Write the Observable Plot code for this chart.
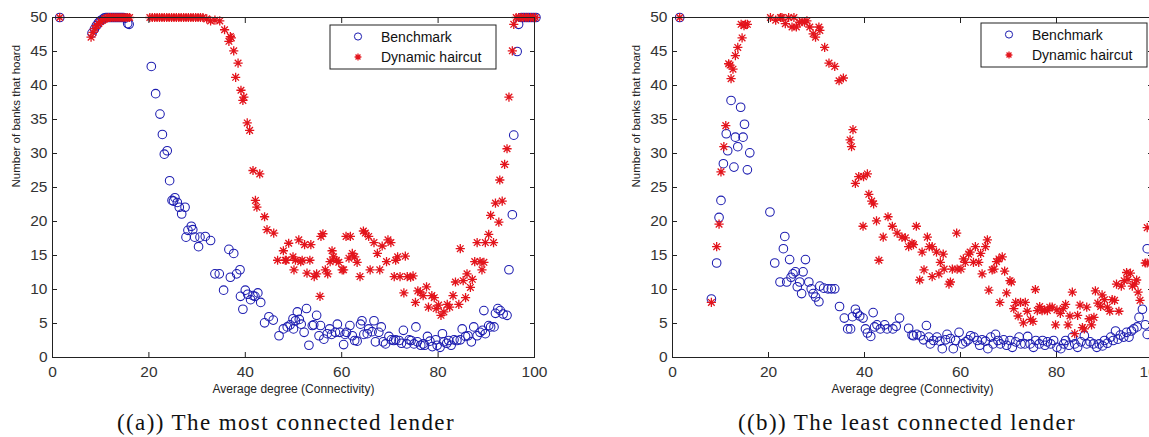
<!DOCTYPE html>
<html><head><meta charset="utf-8">
<script src="https://cdn.jsdelivr.net/npm/d3@7"></script>
<script src="https://cdn.jsdelivr.net/npm/@observablehq/plot@0.6"></script>
<style>
html,body{margin:0;padding:0;overflow:hidden;background:#fff;width:1149px;height:437px}
#wrap{position:relative;width:1149px;height:437px;overflow:hidden}
.fig{position:absolute;top:0}
.fig svg{max-width:none !important;display:block}
.cap{position:absolute;top:410px;font-family:"Liberation Serif","DejaVu Serif",serif;font-size:23px;letter-spacing:1.4px;line-height:26px;color:#111;white-space:nowrap;transform:translateX(-50%)}
</style></head><body><div id="wrap"></div>
<script>
const xTicks=[0,20,40,60,80,100];
const yTicks=[0,5,10,15,20,25,30,35,40,45,50];
const seriesNames=["Benchmark","Dynamic haircut"];
const xLabel="Average degree (Connectivity)";
const yLabel="Number of banks that hoard";
const captions=["((a)) The most connected lender","((b)) The least connected lender"];

// Panel (a): most connected lender
const benchA=[[1.5,50],
[8.2,47.7],[8.7,48.3],[9.1,48.8],[9.5,49.2],[9.9,49.5],[10.3,49.7],[10.7,49.9],[11.1,50],[11.5,50],[11.9,50],[12.3,50],[12.7,50],[13.1,50],[13.5,50],[13.9,50],[14.3,50],[14.7,50],[15.1,49.9],[15.6,49.1],[15.9,49],
[20.5,42.8],[21.4,38.8],[22.3,35.8],[22.8,32.8],[23.2,29.9],[23.8,30.4],[24.3,26.0],[24.8,23.1],[25.1,23.0],[25.4,23.5],[25.9,22.8],[26.3,22.1],[26.8,21.1],[27.5,22.1],[27.7,17.7],[28.1,18.7],[28.8,19.3],[29.1,18.8],[29.5,17.7],[30.3,16.3],[30.6,17.7],[31.7,17.8],[32.8,17.2],[33.7,12.3],[34.6,12.3],[35.5,9.9],[36.6,15.9],[36.9,11.8],[37.6,15.3],[38.2,12.3],[38.9,12.9],[39.0,9.0],[39.5,7.1],[40.0,9.9],[40.5,9.3],[41.1,8.5],[41.6,9.1],[42.0,9.0],[42.6,9.5],[43.2,8.1],[44.0,5.1],[44.9,6.0],[45.8,5.5],[47.0,3.2],[47.9,4.2],[48.7,4.5],[49.3,4.8],[49.9,5.7],[50.0,4.2],[50.4,5.4],[50.8,6.7],[51.2,5.6],[51.6,4.9],[52.2,3.7],[52.7,7.2],[53.2,1.8],[53.9,4.7],[54.2,4.8],[54.8,6.2],[55.3,3.2],[55.6,4.7],[56.3,2.7],[57.0,3.5],[57.5,4.2],[57.9,3.4],[58.7,3.7],[59.1,4.9],[59.6,3.7],[60.4,1.9],[60.7,3.4],[61.0,3.7],[61.7,4.7],[62.2,3.2],[62.7,2.5],[63.2,2.4],[63.9,4.9],[64.2,5.4],[64.6,3.4],[65.3,3.5],[65.6,4.2],[66.3,3.8],[66.7,5.4],[67.0,2.3],[67.7,3.7],[68.2,4.5],[68.6,2.3],[69.1,2.0],[69.8,3.1],[70.3,2.6],[70.8,2.5],[71.2,2.6],[71.9,2.5],[72.4,2.1],[72.8,4.0],[73.5,2.0],[74.0,2.6],[74.4,2.5],[75.0,2.0],[75.4,4.5],[75.7,2.3],[76.4,1.8],[76.9,2.0],[77.2,1.8],[77.8,3.1],[78.3,2.4],[78.8,1.6],[79.5,2.6],[79.8,1.8],[80.4,1.5],[80.9,3.5],[81.2,2.3],[81.8,2.1],[82.2,2.5],[82.7,1.8],[83.3,2.6],[83.9,2.5],[84.6,2.6],[85.0,4.2],[85.7,3.1],[86.2,3.2],[86.9,2.3],[87.4,4.5],[88.1,3.2],[88.7,3.7],[89.2,4.0],[89.5,6.9],[89.8,3.5],[90.5,4.7],[90.9,4.5],[91.6,4.5],[91.9,6.5],[92.4,7.2],[92.9,6.9],[93.5,6.4],[94.3,6.2],[94.7,12.9],[95.4,21.0],[95.7,32.7],[96.4,45.0],[96.7,49.0],[97.3,50],[97.8,50],[98.3,50],[98.8,50],[99.3,50],[99.8,50],[100.3,50]];

const dynA=[[1.5,50],
[8.0,47.1],[8.4,47.8],[8.8,48.4],[9.2,48.8],[9.6,49.1],[10.0,49.4],[10.4,49.6],[10.8,49.8],[11.2,49.9],[11.6,50],[12.0,50],[12.4,50],[12.8,50],[13.2,50],[13.6,50],[14.0,50],[14.4,50],[14.8,50],[15.2,50],[15.6,50],[16.0,50],
[20.2,50],[20.7,50],[21.2,50],[21.7,50],[22.2,50],[22.7,50],[23.2,50],[23.7,50],[24.2,50],[24.7,50],[25.2,50],[25.7,50],[26.2,50],[26.7,50],[27.2,50],[27.7,50],[28.2,50],[28.7,50],[29.2,50],[29.7,50],[30.2,50],[30.7,50],[31.2,50],[32.0,49.8],[32.8,49.5],[33.7,49.6],[34.7,49.5],[35.7,48.2],[36.6,46.5],[36.9,47.2],[37.1,47.0],[37.6,45.1],[38.0,41.2],[38.5,43.3],[39.1,39.3],[39.5,37.8],[39.7,38.3],[40.4,34.5],[40.9,33.4],[41.6,27.5],[42.1,23.1],[42.4,22.1],[43.0,27.0],[44.0,20.7],[44.5,18.8],[45.9,18.3],[46.7,14.3],[47.9,15.7],[48.3,14.3],[48.5,14.3],[49.0,16.8],[49.9,14.8],[50.1,12.9],[50.4,14.3],[51.1,17.3],[51.5,14.1],[51.8,14.3],[52.3,16.6],[52.8,12.4],[53.4,14.3],[53.6,16.6],[54.3,11.9],[54.8,12.3],[55.5,9.0],[55.7,17.8],[56.1,18.2],[56.6,12.9],[57.1,12.3],[57.6,14.1],[58.0,15.7],[58.3,14.8],[58.9,14.3],[59.4,14.0],[60.1,12.9],[60.4,12.9],[60.9,17.8],[61.5,14.6],[61.8,17.8],[62.2,15.3],[62.7,14.8],[63.2,14.0],[63.8,11.9],[64.5,18.6],[64.9,18.3],[65.6,17.8],[65.9,12.9],[66.7,16.9],[67.4,15.3],[67.9,12.9],[68.4,16.4],[69.3,14.1],[69.6,17.3],[70.2,16.9],[70.9,11.9],[71.2,14.3],[71.6,14.8],[72.1,11.9],[72.9,9.5],[73.2,14.9],[73.6,11.9],[74.3,11.8],[74.8,12.0],[75.3,8.1],[75.8,9.8],[76.3,9.6],[76.9,9.1],[77.6,10.4],[78.0,7.4],[78.7,9.1],[79.2,8.8],[79.6,7.2],[80.1,7.7],[80.6,6.2],[81.2,6.7],[81.9,7.8],[82.4,7.4],[83.1,9.1],[83.6,11.1],[84.3,7.8],[84.6,16.0],[85.2,11.3],[85.7,8.8],[86.0,12.3],[86.7,10.3],[87.1,11.5],[87.6,14.1],[88.1,16.9],[88.7,14.1],[89.1,12.9],[89.5,14.0],[89.8,16.9],[90.5,18.1],[90.9,20.9],[91.5,16.9],[91.9,22.7],[92.6,19.9],[92.8,26.1],[93.3,23.0],[93.8,28.4],[94.3,30.7],[94.7,38.3],[95.4,45.1],[95.7,49.0],[96.2,50],[96.7,50],[97.2,50],[97.7,50],[98.2,50],[98.7,50],[99.2,50],[99.7,50],[100.2,50]];

// Panel (b): least connected lender
const benchB=[[1.5,50],
[8.1,8.6],[9.2,13.9],[9.7,20.6],[10.1,23.1],[10.6,28.5],[11.2,32.9],[11.5,30.4],[12.2,37.8],[12.8,28.0],[13.1,32.4],[13.6,31.0],[14.2,36.8],[14.7,32.4],[15.0,34.3],[15.6,27.6],[16.1,30.1],
[20.3,21.4],[21.3,13.9],[22.4,11.1],[23.1,16.0],[23.4,17.8],[23.8,11.1],[24.4,14.4],[24.7,11.8],[25.1,12.3],[25.6,12.6],[26.0,10.4],[26.5,11.1],[26.9,9.4],[27.2,12.6],[27.7,14.4],[28.4,11.1],[28.9,10.1],[29.3,9.4],[29.8,8.9],[30.5,8.2],[30.7,10.5],[31.5,10.2],[32.4,10.1],[33.1,10.1],[33.8,10.1],[34.8,7.5],[35.8,5.8],[36.5,4.2],[37.1,4.2],[37.5,6.0],[38.1,7.1],[38.5,6.5],[39.0,6.1],[39.7,5.8],[40.2,4.2],[40.6,3.6],[41.3,3.1],[41.8,6.6],[42.1,4.5],[42.6,4.8],[43.3,4.2],[44.2,4.8],[44.7,4.2],[45.9,4.2],[46.6,4.6],[47.3,5.8],
[49.2,4.3],[49.9,3.3],[50.2,3.2],[50.9,3.4],[51.6,3.2],[52.3,2.6],[52.9,4.7],[53.4,3.0],[53.7,2.0],[54.4,2.5],[55.1,3.0],[55.7,2.4],[56.2,1.3],[56.9,2.6],[57.2,3.4],[57.9,2.8],[58.5,1.3],[59.0,2.5],[59.7,3.7],[60.4,2.0],[61.1,2.3],[61.6,2.6],[62.1,3.2],[62.8,3.0],[63.5,2.5],[64.0,1.8],[64.5,2.6],[65.2,2.4],[65.7,1.3],[66.3,3.0],[66.8,2.0],[67.3,3.4],[67.8,2.5],[68.3,2.0],[69.0,2.6],[69.6,1.8],[70.3,2.5],[70.8,1.5],[71.5,2.3],[72.2,3.0],[72.6,2.0],[73.4,2.0],[74.0,3.1],[74.5,2.0],[75.2,1.5],[75.7,2.5],[76.4,2.0],[77.1,2.5],[77.6,1.8],[78.1,2.3],[78.8,2.0],[79.4,2.5],[80.1,1.5],[80.9,1.3],[81.5,2.0],[81.9,2.5],[82.6,1.8],[83.3,3.0],[83.8,2.0],[84.4,1.5],[85.1,2.3],[85.8,3.2],[86.3,2.0],[87.0,2.3],[87.7,2.0],[88.4,1.5],[88.9,2.0],[89.6,1.7],[90.0,2.5],[90.6,2.1],[91.3,3.0],[91.8,2.5],[92.3,3.9],[92.8,2.7],[93.3,3.3],[94.0,3.0],[94.6,3.7],[95.1,3.0],[95.6,3.9],[96.1,4.2],[96.8,4.5],[97.2,5.9],[97.9,7.1],[98.5,4.8],[98.9,3.4],[98.9,16.0]];

const dynB=[[1.5,50],
[8.1,8.1],[9.2,16.3],[9.7,19.6],[10.1,27.3],[10.7,31.0],[11.1,34.1],[11.7,43.2],[12.0,43.0],[12.2,41.0],[12.6,42.4],[13.1,44.4],[13.6,45.6],[14.3,49.0],[14.5,47.0],[14.9,48.8],[15.2,49.0],[15.6,49.0],
[20.4,50],[21.5,49.6],[22.5,50],[22.8,50],[23.5,49.1],[24.2,50],[24.9,48.6],[25.3,50],[25.8,48.6],[26.5,49.3],[27.0,49.4],[27.5,49.3],[28.0,49.5],[28.6,48.6],[29.3,47.6],[29.8,47.1],[30.5,48.6],[30.7,48.1],[31.7,45.6],[32.6,43.3],[33.8,42.8],[34.7,40.7],[35.6,41.1],[37.0,32.0],[37.3,31.0],[37.6,33.5],[38.1,25.6],[38.8,26.6],[39.7,19.3],[39.8,26.6],[40.6,27.0],[40.9,24.0],[41.5,23.0],[41.9,22.6],[42.5,20.1],[43.0,14.3],[43.9,17.7],[44.9,20.7],[45.8,19.3],[46.8,18.3],[47.8,17.7],[48.5,17.6],[49.2,16.3],[49.9,16.8],[50.2,16.6],[50.8,19.3],[51.5,11.4],[52.0,15.5],[52.4,12.9],[53.1,17.7],[53.5,16.3],[54.1,11.9],[54.1,16.3],[55.0,15.5],[55.5,12.3],[55.8,14.0],[56.4,15.2],[56.6,13.0],[57.6,10.8],[57.9,11.1],[58.3,13.0],[59.2,18.3],[59.3,13.0],[60.1,13.0],[60.6,14.5],[61.0,14.0],[61.7,15.2],[62.0,15.5],[62.7,14.0],[63.1,16.3],[63.8,14.0],[64.2,15.3],[64.5,12.3],[65.2,16.3],[65.6,17.3],[65.9,9.9],[66.6,12.9],[67.0,13.0],[67.5,14.1],[68.0,14.5],[68.2,8.1],[68.7,14.8],[69.2,12.7],[69.6,9.5],[70.3,11.3],[70.6,11.1],[71.1,7.2],[71.5,8.1],[72.0,6.1],[72.5,8.1],[73.1,5.1],[73.5,8.1],[73.9,6.8],[74.6,5.6],[75.1,5.3],[75.6,10.0],[76.0,6.9],[76.5,7.5],[77.0,6.9],[77.5,7.0],[78.1,6.9],[78.6,7.4],[79.1,7.4],[79.8,4.8],[80.1,7.0],[80.8,6.5],[81.4,7.2],[81.9,7.8],[82.4,4.8],[82.8,6.1],[83.3,9.6],[83.8,3.5],[84.4,6.2],[84.9,7.7],[85.4,4.4],[85.8,4.2],[86.3,7.4],[86.8,5.7],[87.3,4.8],[87.8,5.9],[88.1,9.8],[88.6,8.0],[89.2,7.5],[89.5,9.2],[90.0,8.5],[90.6,7.4],[91.1,6.8],[91.6,8.5],[92.1,8.4],[92.5,10.8],[93.0,6.8],[93.5,10.5],[94.1,11.3],[94.6,12.5],[94.9,11.5],[95.4,12.4],[95.8,10.5],[96.3,10.8],[96.7,11.4],[97.0,9.6],[97.4,8.4],[98.5,13.9],[98.9,13.9],[98.9,19.1]];

const BLUE="#1c1cb0", RED="#e3141c", INK="#222";

const asterisk={draw(ctx,size){
  const r=Math.sqrt(size/Math.PI), d=r*0.72;
  ctx.moveTo(0,-r);ctx.lineTo(0,r);
  ctx.moveTo(-r,0);ctx.lineTo(r,0);
  ctx.moveTo(-d,-d);ctx.lineTo(d,d);
  ctx.moveTo(-d,d);ctx.lineTo(d,-d);
}};

function panel(bench, dyn, width, marginRight){
  return Plot.plot({
    width, height:395, marginLeft:52, marginRight, marginTop:17, marginBottom:38,
    style:{fontFamily:"'Liberation Sans', Arial, sans-serif", background:"white", overflow:"visible"},
    x:{domain:[0,100]},
    y:{domain:[0,50]},
    marks:[
      Plot.dot(bench,{x:d=>d[0],y:d=>d[1],r:4.3,stroke:BLUE,fill:"none",strokeWidth:1.05}),
      Plot.dot(dyn,{x:d=>d[0],y:d=>d[1],r:4.6,symbol:asterisk,stroke:RED,fill:"none",strokeWidth:1.3}),
      Plot.frame({stroke:INK,strokeWidth:1}),
      Plot.axisX(xTicks,{anchor:"bottom",tickSize:-5,fill:"none",stroke:INK,label:null}),
      Plot.axisX(xTicks,{anchor:"top",tickSize:-5,fill:"none",stroke:INK,label:null}),
      Plot.axisY(yTicks,{anchor:"left",tickSize:-5,fill:"none",stroke:INK,label:null}),
      Plot.axisY(yTicks,{anchor:"right",tickSize:-5,fill:"none",stroke:INK,label:null}),
      Plot.axisX(xTicks,{anchor:"bottom",tickSize:0,tickPadding:8,fontSize:15.5,fill:"#333",label:null}),
      Plot.axisY(yTicks,{anchor:"left",tickSize:0,tickPadding:5,fontSize:15.5,fill:"#333",label:null}),
      Plot.text([xLabel],{frameAnchor:"bottom",dy:35,fontSize:12,fill:INK}),
      Plot.text([yLabel],{frameAnchor:"left",dx:-36,rotate:-90,fontSize:11.5,fill:INK})
    ]
  });
}

function addLegend(svg,bx,by){
  const g=d3.select(svg).append("g").attr("font-family","'Liberation Sans', Arial, sans-serif").attr("font-size",14).attr("text-anchor","start");
  g.append("rect").attr("x",bx).attr("y",by).attr("width",166).attr("height",44).attr("fill","white").attr("stroke",INK);
  g.append("circle").attr("cx",bx+28).attr("cy",by+11.5).attr("r",3.6).attr("fill","none").attr("stroke",BLUE).attr("stroke-width",1);
  g.append("text").attr("x",bx+51).attr("y",by+11.5).attr("dy","0.36em").attr("text-anchor","start").attr("fill","#111").text(seriesNames[0]);
  const r=3.4,d=r*0.72,cx=bx+28,cy=by+32;
  g.append("path").attr("d",`M${cx},${cy-r}V${cy+r}M${cx-r},${cy}H${cx+r}M${cx-d},${cy-d}L${cx+d},${cy+d}M${cx-d},${cy+d}L${cx+d},${cy-d}`).attr("stroke",RED).attr("stroke-width",1.3).attr("fill","none");
  g.append("text").attr("x",bx+51).attr("y",cy).attr("dy","0.36em").attr("text-anchor","start").attr("fill","#111").text(seriesNames[1]);
}

const wrap=document.getElementById("wrap");
const figs=[
  {bench:benchA,dyn:dynA,left:0,width:560,mr:26,lx:330,ly:25,cx:286},
  {bench:benchB,dyn:dynB,left:620,width:540,mr:8,lx:361,ly:23,cx:907}
];
figs.forEach((f,i)=>{
  const div=document.createElement("div");
  div.className="fig"; div.style.left=f.left+"px"; div.style.width=f.width+"px";
  const svg=panel(f.bench,f.dyn,f.width,f.mr);
  addLegend(svg,f.lx,f.ly);
  div.appendChild(svg);
  wrap.appendChild(div);
  const cap=document.createElement("div");
  cap.className="cap"; cap.style.left=f.cx+"px"; cap.textContent=captions[i];
  wrap.appendChild(cap);
});
</script></body></html>
